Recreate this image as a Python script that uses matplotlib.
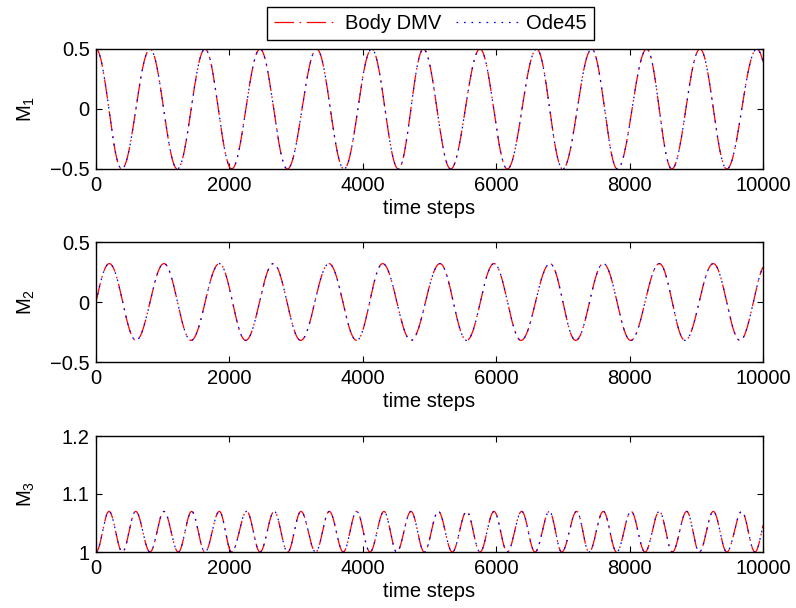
#! /usr/bin/env python3
"""Body DMV vs Ode45: body angular momentum components M1, M2, M3 over time."""

import numpy as np
import matplotlib
matplotlib.use('Agg')
import matplotlib.pyplot as plt

# ── Data (times of extrema, in time steps) ───────────────────────────────────
T_END = 10000

M1_PEAK_T   = [0, 810, 1634, 2459, 3309, 4133, 4908, 5757, 6607, 7432, 8257, 9055, 9906]
M1_TROUGH_T = [385, 1219, 2034, 2869, 3718, 4533, 5317, 6167, 6997, 7817, 8632, 9457]
M1_PEAK, M1_TROUGH = 0.5, -0.5

M2_PEAK_T   = [200, 1019, 1849, 2658, 3493, 4298, 5157, 5967, 6807, 7606, 8446, 9255]
M2_TROUGH_T = [600, 1424, 2244, 3069, 3908, 4723, 5557, 6372, 7192, 8017, 8831, 9655]
M2_PEAK, M2_TROUGH = 0.32, -0.32

M3_PEAK_T   = [195, 595, 1019, 1434, 1849, 2259, 2673, 3073, 3498, 3908, 4318, 4723,
               5132, 5557, 5967, 6382, 6797, 7207, 7606, 8022, 8446, 8856, 9255, 9681]
M3_TROUGH_T = [0, 395, 810, 1234, 1634, 2034, 2459, 2873, 3293, 3708, 4108, 4508,
               4922, 5342, 5757, 6167, 6582, 6982, 7392, 7806, 8231, 8641, 9045, 9457, 9880]
M3_PEAK, M3_TROUGH = 1.07, 1.0

SERIES = ['Body DMV', 'Ode45']
Y_LABELS = ['M$_1$', 'M$_2$', 'M$_3$']
Y_TICKS = [[-0.5, 0, 0.5], [-0.5, 0, 0.5], [1, 1.1, 1.2]]
Y_TICKLABELS = [['\u22120.5', '0', '0.5'], ['\u22120.5', '0', '0.5'], ['1', '1.1', '1.2']]
Y_LIMS = [(-0.5, 0.5), (-0.5, 0.5), (1, 1.2)]
X_TICKS = [0, 2000, 4000, 6000, 8000, 10000]

FS = 14.5


def extrema_curve(peak_t, trough_t, peak_v, trough_v, t):
    """Join the read-off extrema with half-cosine arcs (ends mirrored)."""
    ext = sorted([(p, peak_v) for p in peak_t] + [(q, trough_v) for q in trough_t])
    et = [e[0] for e in ext]
    ev = [e[1] for e in ext]
    # mirror one extra half-wave on each side so the ends are covered
    et = [et[0] - (et[1] - et[0])] + et + [et[-1] + (et[-1] - et[-2])]
    ev = [ev[1]] + ev + [ev[-2]]
    et, ev = np.array(et, float), np.array(ev, float)
    idx = np.clip(np.searchsorted(et, t, side='right') - 1, 0, len(et) - 2)
    u = (t - et[idx]) / (et[idx + 1] - et[idx])
    return ev[idx] + (ev[idx + 1] - ev[idx]) * (1 - np.cos(np.pi * u)) / 2


plt.rcParams['font.family'] = ['Liberation Sans', 'DejaVu Sans']
plt.rcParams['mathtext.fontset'] = 'custom'
plt.rcParams['mathtext.rm'] = 'Liberation Sans'
plt.rcParams['mathtext.it'] = 'Liberation Sans'
plt.rcParams['lines.scale_dashes'] = False

t = np.arange(0, T_END + 1, 5, dtype=float)
curves = [
    extrema_curve(M1_PEAK_T, M1_TROUGH_T, M1_PEAK, M1_TROUGH, t),
    extrema_curve(M2_PEAK_T, M2_TROUGH_T, M2_PEAK, M2_TROUGH, t),
    extrema_curve(M3_PEAK_T, M3_TROUGH_T, M3_PEAK, M3_TROUGH, t),
]

fig = plt.figure(figsize=(7.96, 6.08), dpi=100)
W, H = 796.0, 608.0
boxes = [(96, 49, 763, 169), (96, 242, 763, 362), (96, 436, 763, 552)]

handles = None
for k, (x0, y0, x1, y1) in enumerate(boxes):
    ax = fig.add_axes([x0 / W, 1 - y1 / H, (x1 - x0) / W, (y1 - y0) / H])
    h1, = ax.plot(t, curves[k], color='red', lw=0.9, dashes=(14, 4, 1.2, 4),
                  label=SERIES[0])
    h2, = ax.plot(t, curves[k], color='blue', lw=0.9, dashes=(1.2, 4.2),
                  label=SERIES[1])
    handles = [h1, h2]
    ax.set_xlim(0, T_END)
    ax.set_ylim(*Y_LIMS[k])
    ax.set_xticks(X_TICKS)
    ax.set_xticklabels([str(v) for v in X_TICKS])
    ax.set_yticks(Y_TICKS[k])
    ax.set_yticklabels(Y_TICKLABELS[k])
    ax.tick_params(direction='in', top=True, right=True, length=4.5, width=0.8,
                   labelsize=FS)
    ax.tick_params(axis='x', pad=5)
    ax.tick_params(axis='y', pad=4.5)
    for s in ax.spines.values():
        s.set_linewidth(1.0)
    ax.set_xlabel('time steps', fontsize=FS, labelpad=3)
    ax.set_ylabel(Y_LABELS[k], fontsize=FS)
    ax.yaxis.set_label_coords(-0.088, 0.5)

leg = fig.legend(handles, SERIES, loc='center', ncol=2,
                 bbox_to_anchor=(430.5 / W, 1 - 23.5 / H), fontsize=FS,
                 fancybox=False, edgecolor='black', framealpha=1,
                 handlelength=3.2, columnspacing=0.75, handletextpad=0.3,
                 borderpad=0.35, borderaxespad=0)
leg.get_frame().set_linewidth(1.0)

fig.savefig('out.png', dpi=100)
